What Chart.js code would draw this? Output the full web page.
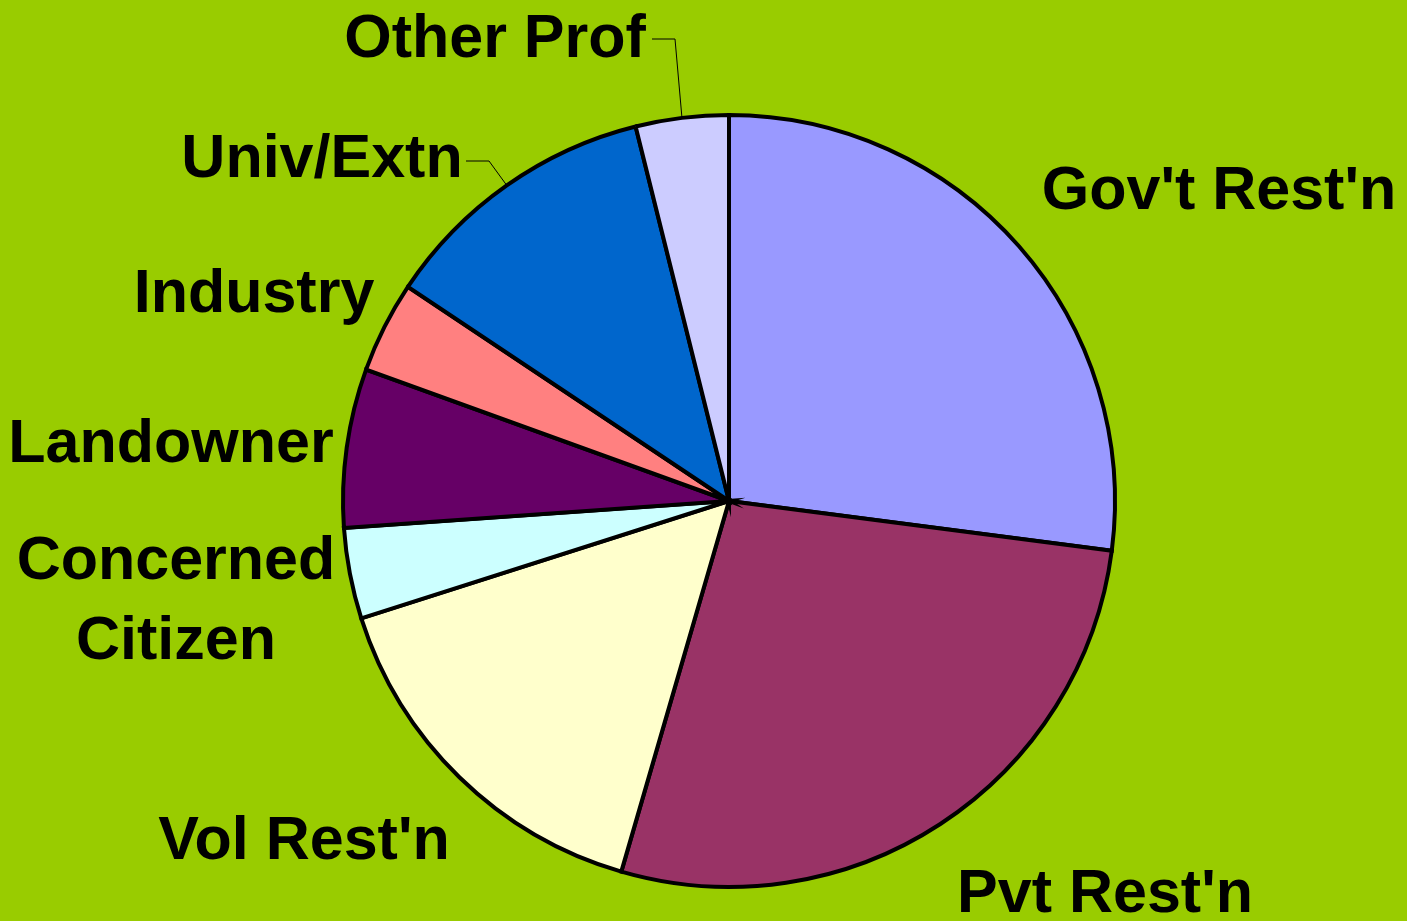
<!DOCTYPE html>
<html>
<head>
<meta charset="utf-8">
<script src="https://cdn.jsdelivr.net/npm/chart.js@4.4.0/dist/chart.umd.min.js"></script>
<style>
  html, body { margin: 0; padding: 0; background: #99CC00; }
  #wrap { width: 1407px; height: 921px; }
</style>
</head>
<body>
<div id="wrap"><canvas id="myChart" width="1407" height="921"></canvas></div>
<script>
// slices clockwise from 12 o'clock
const labels = ["Gov't Rest'n", "Pvt Rest'n", "Vol Rest'n", "Concerned Citizen", "Landowner", "Industry", "Univ/Extn", "Other Prof"];
const values = [97.4, 98.8, 56.1, 13.7, 23.9, 13.8, 42.3, 14.0];
const colors = ['#9999FF', '#993366', '#FFFFCC', '#CCFFFF', '#660066', '#FF8080', '#0066CC', '#CCCCFF'];

// label text lines and where they sit (centre of text block)
const labelLines = [["Gov't Rest'n"], ["Pvt Rest'n"], ["Vol Rest'n"], ["Concerned", "Citizen"], ["Landowner"], ["Industry"], ["Univ/Extn"], ["Other Prof"]];
const labelPos = [[1219, 192], [1105, 895], [304, 842], [176, 602], [171, 445], [254, 295], [322, 160], [495, 40]];
// leader lines: [slice index, text end x, elbow x, y]
const leaders = [[7, 652, 675, 39], [6, 466, 489, 161]];

const bgPlugin = {
    id: 'bg',
    beforeDraw(chart) {
        const ctx = chart.ctx;
        ctx.save();
        ctx.fillStyle = '#99CC00';
        ctx.fillRect(0, 0, chart.width, chart.height);
        ctx.restore();
    }
};

const labelPlugin = {
    id: 'sliceLabels',
    afterDraw(chart) {
        const ctx = chart.ctx;
        const arcs = chart.getDatasetMeta(0).data;
        ctx.save();
        ctx.fillStyle = '#000';
        ctx.font = 'bold 61px "Liberation Sans", Arial, sans-serif';
        ctx.textAlign = 'center';
        ctx.textBaseline = 'middle';
        labelLines.forEach((lines, i) => {
            const [x, y] = labelPos[i];
            const lh = 80;
            lines.forEach((t, j) => {
                ctx.fillText(t, x, y + (j - (lines.length - 1) / 2) * lh);
            });
        });
        // leader lines to slice mid points on the rim
        ctx.strokeStyle = '#000';
        ctx.lineWidth = 1;
        leaders.forEach(([i, x0, x1, y]) => {
            const a = arcs[i];
            const mid = (a.startAngle + a.endAngle) / 2;
            const ex = a.x + Math.cos(mid) * a.outerRadius;
            const ey = a.y + Math.sin(mid) * a.outerRadius;
            ctx.beginPath();
            ctx.moveTo(x0, y);
            ctx.lineTo(x1, y);
            ctx.lineTo(ex, ey);
            ctx.stroke();
        });
        ctx.restore();
    }
};

const dataChart = {
    labels: labels,
    datasets: [{
        data: values,
        backgroundColor: colors,
        borderColor: '#000000',
        borderWidth: 4,
        borderJoinStyle: 'miter'
    }]
};

const config = {
    type: 'pie',
    data: dataChart,
    options: {
        responsive: false,
        animation: false,
        layout: { padding: { top: 113, bottom: 32, left: 341, right: 290 } },
        plugins: {
            legend: { display: false },
            tooltip: { enabled: false }
        }
    },
    plugins: [bgPlugin, labelPlugin]
};

const myChart = new Chart(document.getElementById('myChart'), config);
</script>
</body>
</html>
